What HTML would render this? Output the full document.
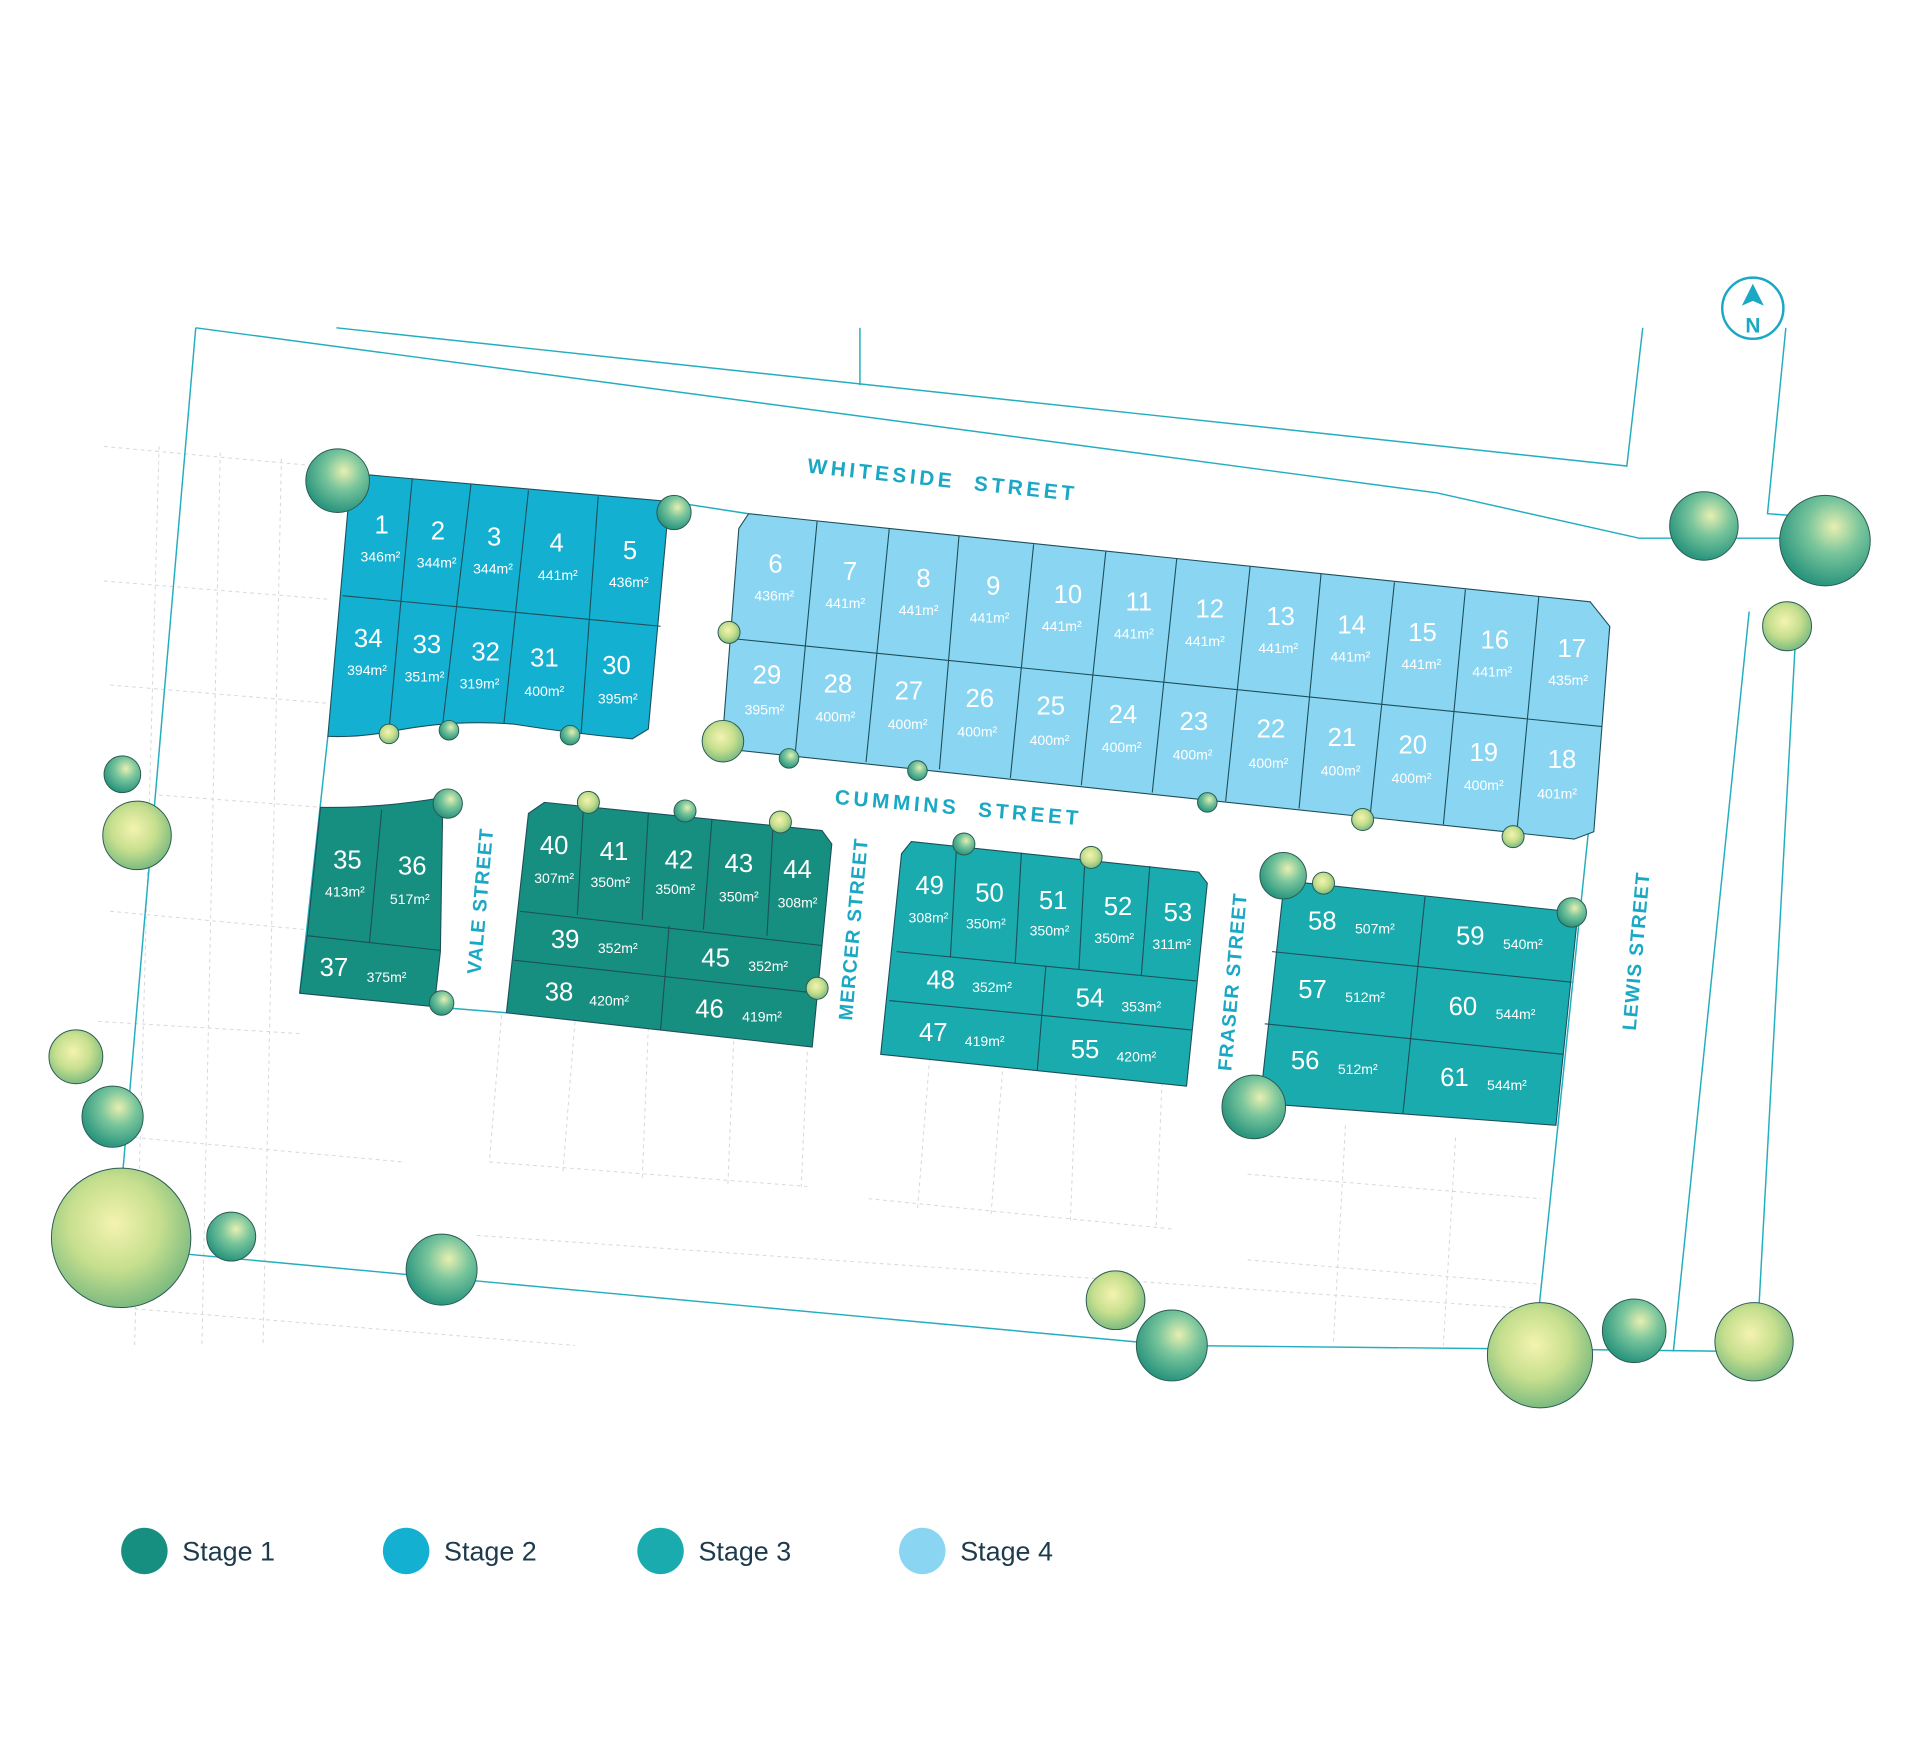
<!DOCTYPE html>
<html><head><meta charset="utf-8"><style>
html,body{margin:0;padding:0;background:#fff;}
svg{display:block;}
.n{font-family:"Liberation Sans",sans-serif;font-size:21px;fill:#fff;text-anchor:middle;}
.a{font-family:"Liberation Sans",sans-serif;font-size:11.5px;fill:#fff;text-anchor:middle;}
.s{font-family:"Liberation Sans",sans-serif;font-size:17px;font-weight:bold;fill:#1ba8c4;letter-spacing:3px;text-anchor:middle;}
.v{font-family:"Liberation Sans",sans-serif;font-size:16px;font-weight:bold;fill:#1ba8c4;letter-spacing:1px;text-anchor:middle;}
.l{font-family:"Liberation Sans",sans-serif;font-size:22px;fill:#1d3b4c;}
.div{stroke:#1d4f5a;stroke-width:0.9;fill:none;}
.bd{stroke:#22aebf;stroke-width:1.2;fill:none;}
.gr{stroke:#d4d8d8;stroke-width:0.8;fill:none;stroke-dasharray:3 3;}
</style></head><body>
<svg width="1918" height="1754" viewBox="0 0 1568 1434" xmlns="http://www.w3.org/2000/svg">
<defs>
<radialGradient id="t1" cx="45%" cy="40%" r="60%"><stop offset="0" stop-color="#f4f3b0"/><stop offset="0.55" stop-color="#c6df8e"/><stop offset="1" stop-color="#7dbb80"/></radialGradient>
<radialGradient id="t2" cx="60%" cy="35%" r="65%"><stop offset="0" stop-color="#e8efb0"/><stop offset="0.45" stop-color="#79c59c"/><stop offset="1" stop-color="#2a957e"/></radialGradient>
</defs>
<g class="gr">
<path d="M85,365 L270,382 M85,475 L270,490 M90,560 L268,575 M130,650 L262,660 M90,745 L250,760 M80,835 L245,845 M110,930 L330,950 M110,1070 L470,1100"/>
<path d="M130,365 L110,1100 M180,370 L165,1100 M230,375 L215,1100 M410,830 L400,950 M470,835 L460,960 M530,840 L525,965 M600,845 L595,970 M660,860 L655,970 M760,865 L750,990 M820,870 L810,995 M880,875 L875,1000 M950,885 L945,1005"/>
<path d="M400,950 L660,970 M710,980 L960,1005 M1020,960 L1260,980 M1020,1030 L1260,1050 M390,1010 L1250,1070 M1100,920 L1090,1100 M1190,930 L1180,1100"/>
</g>
<g class="bd">
<path d="M160,268 L1175,403 L1340,440 L1485,440"/>
<path d="M275,268 L1330,381 L1343,268"/>
<path d="M703,268 L703,315"/>
<path d="M1460,268 L1445,420 L1488,423"/>
<path d="M160,268 L95,1020 L960,1100 L1260,1103 L1436,1105 L1468,520"/>
<path d="M1430,500 L1368,1105"/>
<path d="M547,410 L612,420 M1316,512 L1255,1100 M268,602 L245,812 M352,823 L414,828"/>
</g>
<path d="M287,387 L547,410 L530,596 L517,604 Q470,600 420,592 Q370,588 320,598 Q292,603 268,602 Z" fill="#14b0d2" stroke="#1d4f5a" stroke-width="0.9"/>
<path class="div" d="M280,487 L540,512 M337,391 L318,597 M385,396 L362,591 M432,401 L412,591 M489,406 L475,600"/>
<path d="M612,420 L1300,492 L1316,512 L1303,680 L1287,686 L590,612 L604,432 Z" fill="#8ad6f2" stroke="#1d4f5a" stroke-width="0.9"/>
<path class="div" d="M598,522 L1310,594 M668,426 L650,617 M727,432 L708,623 M784,438 L768,629 M845,445 L826,636 M904,451 L884,642 M962,457 L942,648 M1022,463 L1002,655 M1080,469 L1062,661 M1140,476 L1120,668 M1198,482 L1180,674 M1258,488 L1240,681"/>
<path d="M262,660 Q310,661 362,652 L360,778 L355,823 L245,812 L251,765 Z" fill="#168f80" stroke="#1d4f5a" stroke-width="0.9"/>
<path class="div" d="M251,765 L360,777 M312,662 L302,771"/>
<path d="M445,656 L672,679 L680,690 L664,856 L414,828 L432,665 Z" fill="#168f80" stroke="#1d4f5a" stroke-width="0.9"/>
<path class="div" d="M425,745 L672,773 M420,785 L668,812 M547,757 L540,842 M477,660 L472,748 M530,665 L525,752 M582,670 L575,760 M632,675 L627,765"/>
<path d="M745,688 L980,713 L987,722 L970,888 L720,862 L737,698 Z" fill="#1aabae" stroke="#1d4f5a" stroke-width="0.9"/>
<path class="div" d="M733,778 L978,802 M727,818 L974,842 M855,790 L848,875 M782,692 L777,782 M835,697 L830,787 M887,702 L882,793 M940,708 L933,798"/>
<path d="M1050,720 L1290,746 L1272,920 L1030,902 Z" fill="#1aabae" stroke="#1d4f5a" stroke-width="0.9"/>
<path class="div" d="M1040,778 L1285,803 M1034,837 L1278,862 M1165,733 L1147,910"/>

<text class="n" x="312" y="436">1</text><text class="a" x="311" y="459">346m²</text>
<text class="n" x="358" y="441">2</text><text class="a" x="357" y="464">344m²</text>
<text class="n" x="404" y="446">3</text><text class="a" x="403" y="469">344m²</text>
<text class="n" x="455" y="451">4</text><text class="a" x="456" y="474">441m²</text>
<text class="n" x="515" y="457">5</text><text class="a" x="514" y="480">436m²</text>
<text class="n" x="301" y="529">34</text><text class="a" x="300" y="552">394m²</text>
<text class="n" x="349" y="534">33</text><text class="a" x="347" y="557">351m²</text>
<text class="n" x="397" y="540">32</text><text class="a" x="392" y="563">319m²</text>
<text class="n" x="445" y="545">31</text><text class="a" x="445" y="569">400m²</text>
<text class="n" x="504" y="551">30</text><text class="a" x="505" y="575">395m²</text>
<text class="n" x="634" y="468">6</text><text class="a" x="633" y="491">436m²</text>
<text class="n" x="695" y="474">7</text><text class="a" x="691" y="497">441m²</text>
<text class="n" x="755" y="480">8</text><text class="a" x="751" y="503">441m²</text>
<text class="n" x="812" y="486">9</text><text class="a" x="809" y="509">441m²</text>
<text class="n" x="873" y="493">10</text><text class="a" x="868" y="516">441m²</text>
<text class="n" x="931" y="499">11</text><text class="a" x="927" y="522">441m²</text>
<text class="n" x="989" y="505">12</text><text class="a" x="985" y="528">441m²</text>
<text class="n" x="1047" y="511">13</text><text class="a" x="1045" y="534">441m²</text>
<text class="n" x="1105" y="518">14</text><text class="a" x="1104" y="541">441m²</text>
<text class="n" x="1163" y="524">15</text><text class="a" x="1162" y="547">441m²</text>
<text class="n" x="1222" y="530">16</text><text class="a" x="1220" y="553">441m²</text>
<text class="n" x="1285" y="537">17</text><text class="a" x="1282" y="560">435m²</text>
<text class="n" x="627" y="559">29</text><text class="a" x="625" y="584">395m²</text>
<text class="n" x="685" y="566">28</text><text class="a" x="683" y="590">400m²</text>
<text class="n" x="743" y="572">27</text><text class="a" x="742" y="596">400m²</text>
<text class="n" x="801" y="578">26</text><text class="a" x="799" y="602">400m²</text>
<text class="n" x="859" y="584">25</text><text class="a" x="858" y="609">400m²</text>
<text class="n" x="918" y="591">24</text><text class="a" x="917" y="615">400m²</text>
<text class="n" x="976" y="597">23</text><text class="a" x="975" y="621">400m²</text>
<text class="n" x="1039" y="603">22</text><text class="a" x="1037" y="628">400m²</text>
<text class="n" x="1097" y="610">21</text><text class="a" x="1096" y="634">400m²</text>
<text class="n" x="1155" y="616">20</text><text class="a" x="1154" y="640">400m²</text>
<text class="n" x="1213" y="622">19</text><text class="a" x="1213" y="646">400m²</text>
<text class="n" x="1277" y="628">18</text><text class="a" x="1273" y="653">401m²</text>
<text class="n" x="284" y="710">35</text><text class="a" x="282" y="733">413m²</text>
<text class="n" x="337" y="715">36</text><text class="a" x="335" y="739">517m²</text>
<text class="n" x="273" y="798">37</text><text class="a" x="316" y="803">375m²</text>
<text class="n" x="453" y="698">40</text><text class="a" x="453" y="722">307m²</text>
<text class="n" x="502" y="703">41</text><text class="a" x="499" y="725">350m²</text>
<text class="n" x="555" y="710">42</text><text class="a" x="552" y="731">350m²</text>
<text class="n" x="604" y="713">43</text><text class="a" x="604" y="737">350m²</text>
<text class="n" x="652" y="718">44</text><text class="a" x="652" y="742">308m²</text>
<text class="n" x="462" y="775">39</text><text class="a" x="505" y="779">352m²</text>
<text class="n" x="585" y="790">45</text><text class="a" x="628" y="794">352m²</text>
<text class="n" x="457" y="818">38</text><text class="a" x="498" y="822">420m²</text>
<text class="n" x="580" y="832">46</text><text class="a" x="623" y="835">419m²</text>
<text class="n" x="760" y="731">49</text><text class="a" x="759" y="754">308m²</text>
<text class="n" x="809" y="737">50</text><text class="a" x="806" y="759">350m²</text>
<text class="n" x="861" y="743">51</text><text class="a" x="858" y="765">350m²</text>
<text class="n" x="914" y="748">52</text><text class="a" x="911" y="771">350m²</text>
<text class="n" x="963" y="753">53</text><text class="a" x="958" y="776">311m²</text>
<text class="n" x="769" y="808">48</text><text class="a" x="811" y="811">352m²</text>
<text class="n" x="891" y="823">54</text><text class="a" x="933" y="827">353m²</text>
<text class="n" x="763" y="851">47</text><text class="a" x="805" y="855">419m²</text>
<text class="n" x="887" y="865">55</text><text class="a" x="929" y="868">420m²</text>
<text class="n" x="1081" y="760">58</text><text class="a" x="1124" y="763">507m²</text>
<text class="n" x="1202" y="772">59</text><text class="a" x="1245" y="776">540m²</text>
<text class="n" x="1073" y="816">57</text><text class="a" x="1116" y="819">512m²</text>
<text class="n" x="1196" y="830">60</text><text class="a" x="1239" y="833">544m²</text>
<text class="n" x="1067" y="874">56</text><text class="a" x="1110" y="878">512m²</text>
<text class="n" x="1189" y="888">61</text><text class="a" x="1232" y="891">544m²</text>

<text class="s" transform="translate(770,398) rotate(6)">WHITESIDE&#160; STREET</text>
<text class="s" transform="translate(783,666) rotate(5)">CUMMINS&#160; STREET</text>
<text class="v" transform="translate(398,737) rotate(-85)">VALE STREET</text>
<text class="v" transform="translate(703,760) rotate(-85)">MERCER STREET</text>
<text class="v" transform="translate(1013,803) rotate(-85)">FRASER STREET</text>
<text class="v" transform="translate(1343,778) rotate(-85)">LEWIS STREET</text>

<g stroke="#2c5a50" stroke-width="0.8">
<circle cx="276" cy="393" r="26" fill="url(#t2)"/>
<circle cx="551" cy="419" r="14" fill="url(#t2)"/>
<circle cx="1393" cy="430" r="28" fill="url(#t2)"/>
<circle cx="1492" cy="442" r="37" fill="url(#t2)"/>
<circle cx="1461" cy="512" r="20" fill="url(#t1)"/>
<circle cx="100" cy="633" r="15" fill="url(#t2)"/>
<circle cx="112" cy="683" r="28" fill="url(#t1)"/>
<circle cx="596" cy="517" r="9" fill="url(#t1)"/>
<circle cx="591" cy="606" r="17" fill="url(#t1)"/>
<circle cx="318" cy="600" r="8" fill="url(#t1)"/>
<circle cx="367" cy="597" r="8" fill="url(#t2)"/>
<circle cx="466" cy="601" r="8" fill="url(#t2)"/>
<circle cx="645" cy="620" r="8" fill="url(#t2)"/>
<circle cx="750" cy="630" r="8" fill="url(#t2)"/>
<circle cx="366" cy="657" r="12" fill="url(#t2)"/>
<circle cx="481" cy="656" r="9" fill="url(#t1)"/>
<circle cx="560" cy="663" r="9" fill="url(#t2)"/>
<circle cx="638" cy="672" r="9" fill="url(#t1)"/>
<circle cx="788" cy="690" r="9" fill="url(#t2)"/>
<circle cx="892" cy="701" r="9" fill="url(#t1)"/>
<circle cx="987" cy="656" r="8" fill="url(#t2)"/>
<circle cx="1114" cy="670" r="9" fill="url(#t1)"/>
<circle cx="1237" cy="684" r="9" fill="url(#t1)"/>
<circle cx="1049" cy="716" r="19" fill="url(#t2)"/>
<circle cx="1082" cy="722" r="9" fill="url(#t1)"/>
<circle cx="1285" cy="746" r="12" fill="url(#t2)"/>
<circle cx="361" cy="820" r="10" fill="url(#t2)"/>
<circle cx="668" cy="808" r="9" fill="url(#t1)"/>
<circle cx="62" cy="864" r="22" fill="url(#t1)"/>
<circle cx="92" cy="913" r="25" fill="url(#t2)"/>
<circle cx="99" cy="1012" r="57" fill="url(#t1)"/>
<circle cx="189" cy="1011" r="20" fill="url(#t2)"/>
<circle cx="361" cy="1038" r="29" fill="url(#t2)"/>
<circle cx="912" cy="1063" r="24" fill="url(#t1)"/>
<circle cx="958" cy="1100" r="29" fill="url(#t2)"/>
<circle cx="1259" cy="1108" r="43" fill="url(#t1)"/>
<circle cx="1336" cy="1088" r="26" fill="url(#t2)"/>
<circle cx="1434" cy="1097" r="32" fill="url(#t1)"/>
<circle cx="1025" cy="905" r="26" fill="url(#t2)"/>
</g>

<circle cx="1433" cy="252" r="25" fill="#fff" stroke="#1ba8c4" stroke-width="2"/>
<path d="M1433,232 L1424,250 L1433,246 L1442,250 Z" fill="#1ba8c4"/>
<text x="1433" y="272" font-family="Liberation Sans,sans-serif" font-weight="bold" font-size="17" fill="#1ba8c4" text-anchor="middle">N</text>

<circle cx="118" cy="1268" r="19" fill="#168f80"/><text class="l" x="149" y="1276">Stage 1</text>
<circle cx="332" cy="1268" r="19" fill="#14b0d2"/><text class="l" x="363" y="1276">Stage 2</text>
<circle cx="540" cy="1268" r="19" fill="#1aabae"/><text class="l" x="571" y="1276">Stage 3</text>
<circle cx="754" cy="1268" r="19" fill="#8ad6f2"/><text class="l" x="785" y="1276">Stage 4</text>
</svg>
</body></html>
